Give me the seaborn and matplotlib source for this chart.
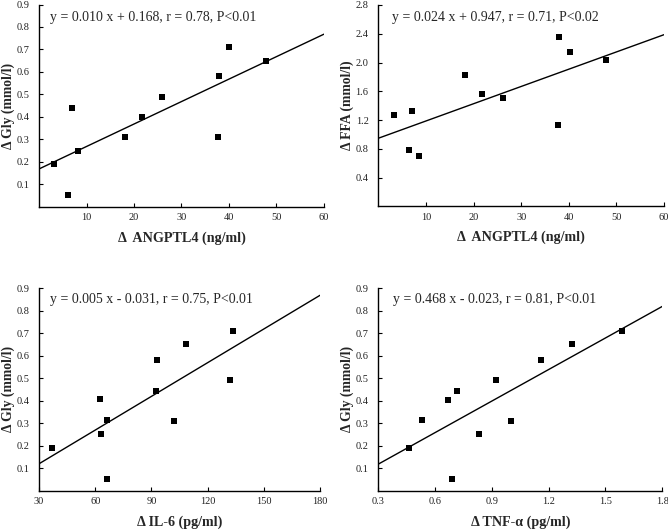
import numpy as np
import pandas as pd
import matplotlib
matplotlib.use('Agg')
import matplotlib.pyplot as plt
import seaborn as sns

# values (11 subjects)
gly = [0.19, 0.05, 0.44, 0.25, 0.31, 0.40, 0.49, 0.58, 0.31, 0.71, 0.65]
angptl4 = [3.1, 6.2, 6.9, 8.3, 18.2, 21.7, 26.0, 37.9, 37.7, 40.1, 47.7]

angptl4_ffa = [3.3, 6.4, 7.1, 8.6, 18.3, 21.8, 26.2, 37.8, 38.0, 40.2, 47.8]
ffa = [1.27, 0.785, 1.32, 0.70, 1.83, 1.56, 1.51, 1.13, 2.35, 2.14, 2.03]

il6 = [36.8, 62.6, 62.9, 66.5, 66.5, 92.3, 93.2, 102.1, 108.3, 131.8, 133.7]
gly_il6 = [0.188, 0.406, 0.253, 0.314, 0.053, 0.444, 0.58, 0.309, 0.652, 0.49, 0.711]

tnf = [0.46, 0.532, 0.67, 0.687, 0.717, 0.832, 0.921, 0.999, 1.161, 1.321, 1.59]
gly_tnf = [0.188, 0.314, 0.404, 0.053, 0.444, 0.253, 0.49, 0.309, 0.58, 0.652, 0.711]

gly_ticks = [0.1, 0.2, 0.3, 0.4, 0.5, 0.6, 0.7, 0.8, 0.9]
ffa_ticks = [0.4, 0.8, 1.2, 1.6, 2.0, 2.4, 2.8]

panels = [
    dict(x=angptl4, y=gly, slope=0.010, icpt=0.168,
         text='y = 0.010 x + 0.168, r = 0.78, P<0.01',
         xlabel='Δ  ANGPTL4 (ng/ml)', ylabel='Δ Gly (mmol/l)',
         xlim=(0, 60), xticks=[10, 20, 30, 40, 50, 60], xfmt='%d',
         ylim=(0, 0.9), yticks=gly_ticks,
         rect=[0.0584, 0.610, 0.4266, 0.3815], tpos=(0.04, 0.938)),
    dict(x=angptl4_ffa, y=ffa, slope=0.024, icpt=0.947,
         text='y = 0.024 x + 0.947, r = 0.71, P<0.02',
         xlabel='Δ  ANGPTL4 (ng/ml)', ylabel='Δ FFA (mmol/l)',
         xlim=(0, 60), xticks=[10, 20, 30, 40, 50, 60], xfmt='%d',
         ylim=(0, 2.8), yticks=ffa_ticks,
         rect=[0.5663, 0.6106, 0.4277, 0.380], tpos=(0.049, 0.94)),
    dict(x=il6, y=gly_il6, slope=0.005, icpt=-0.031,
         text='y = 0.005 x - 0.031, r = 0.75, P<0.01',
         xlabel='Δ IL-6 (pg/ml)', ylabel='Δ Gly (mmol/l)',
         xlim=(30, 180), xticks=[30, 60, 90, 120, 150, 180], xfmt='%d',
         ylim=(0, 0.9), yticks=gly_ticks,
         rect=[0.0584, 0.0745, 0.4207, 0.3815], tpos=(0.039, 0.946)),
    dict(x=tnf, y=gly_tnf, slope=0.468, icpt=-0.023,
         text='y = 0.468 x - 0.023, r = 0.81, P<0.01',
         xlabel='Δ TNF-α (pg/ml)', ylabel='Δ Gly (mmol/l)',
         xlim=(0.3, 1.8), xticks=[0.3, 0.6, 0.9, 1.2, 1.5, 1.8], xfmt='%.1f',
         ylim=(0, 0.9), yticks=gly_ticks,
         rect=[0.5663, 0.0745, 0.4251, 0.3815], tpos=(0.053, 0.946)),
]

sns.set_style('ticks')
plt.rcParams['font.family'] = ['Liberation Serif', 'DejaVu Serif']

fig = plt.figure(figsize=(6.68, 5.30), dpi=100)

for p in panels:
    ax = fig.add_axes(p['rect'])
    df = pd.DataFrame({'x': p['x'], 'y': p['y']})
    sns.scatterplot(data=df, x='x', y='y', marker='s', s=15, color='black',
                    edgecolor='black', linewidth=0, ax=ax, zorder=3)
    # regression line printed on the chart
    lx = np.array(p['xlim'])
    line = pd.DataFrame({'x': lx, 'y': p['slope'] * lx + p['icpt']})
    sns.lineplot(data=line, x='x', y='y', color='black', linewidth=1.0, ax=ax)
    ax.set_xlim(*p['xlim'])
    ax.set_ylim(*p['ylim'])
    ax.set_xticks(p['xticks'])
    ax.set_yticks(p['yticks'])
    ax.set_xticklabels([p['xfmt'] % t for t in p['xticks']])
    ax.set_yticklabels(['%.1f' % t for t in p['yticks']])
    ax.tick_params(direction='in', length=3, width=0.8, labelsize=7.5,
                   colors='black', labelcolor='#222222')
    ax.tick_params(axis='y', pad=7)
    ax.tick_params(axis='x', pad=4.5)
    sns.despine(ax=ax)
    for s in ['left', 'bottom']:
        ax.spines[s].set_linewidth(1.0)
        ax.spines[s].set_color('black')
    ax.set_xlabel(p['xlabel'], fontsize=10.2, fontweight='bold',
                  va='center', ha='center')
    ax.set_ylabel(p['ylabel'], fontsize=9.8, fontweight='bold',
                  va='center', ha='center')
    ax.xaxis.set_label_coords(0.5, -0.155)
    ax.yaxis.set_label_coords(-0.109, 0.5)
    ax.text(p['tpos'][0], p['tpos'][1], p['text'], transform=ax.transAxes,
            fontsize=10, va='center', ha='left')

fig.savefig('out.png', dpi=100)
